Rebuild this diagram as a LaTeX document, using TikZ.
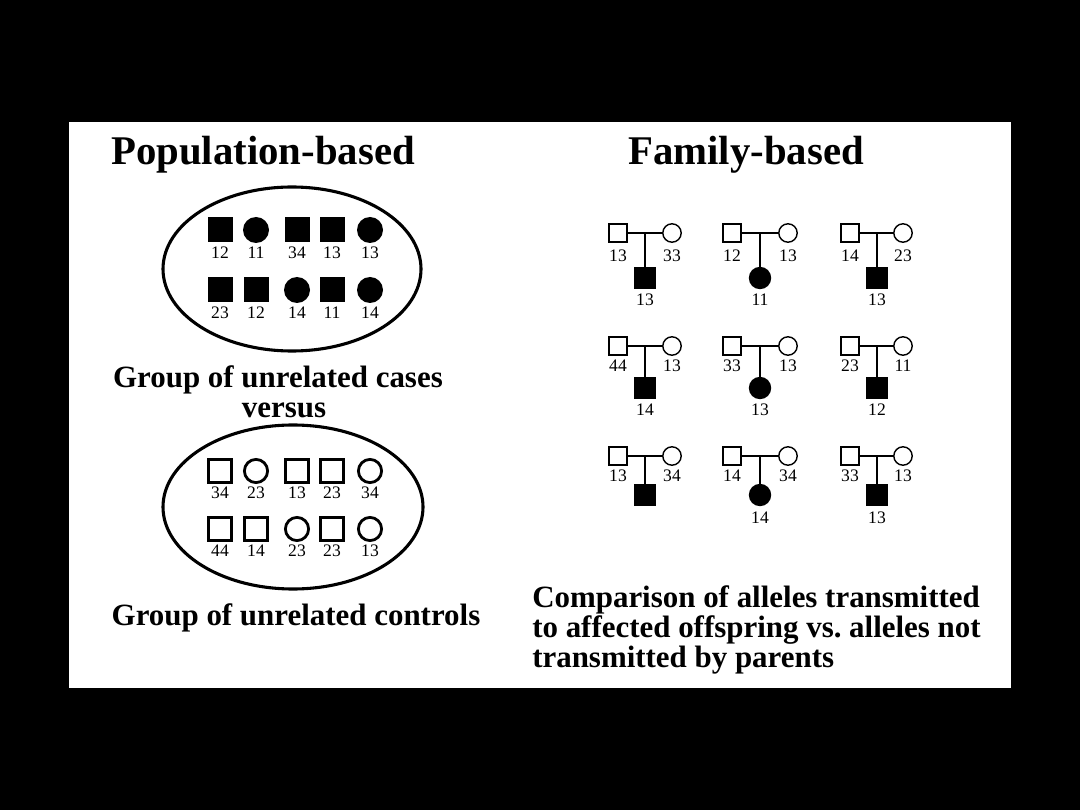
\documentclass[tikz,border=0pt]{standalone}
\usepackage{fontspec}
\setmainfont{Liberation Serif}
\usetikzlibrary{shapes.geometric}
\tikzset{
  fsq/.style={rectangle, fill=black, minimum size=6.25mm, inner sep=0pt},
  fci/.style={circle, fill=black, minimum size=6.5mm, inner sep=0pt},
  osq/.style={rectangle, draw, line width=2pt, minimum size=5.6mm, inner sep=0pt},
  oci/.style={circle, draw, line width=2pt, minimum size=5.8mm, inner sep=0pt},
  psq/.style={rectangle, draw, line width=1pt, minimum size=4.5mm, inner sep=0pt},
  pci/.style={circle, draw, line width=1pt, minimum size=4.6mm, inner sep=0pt},
  csq/.style={rectangle, fill=black, minimum size=5.4mm, inner sep=0pt},
  cci/.style={circle, fill=black, minimum size=5.6mm, inner sep=0pt},
  lbl/.style={font=\fontsize{12.5}{12.5}\selectfont, inner sep=0pt},
  head/.style={font=\fontsize{29}{32}\selectfont\bfseries, inner sep=0pt},
  body/.style={font=\fontsize{22}{21.3}\selectfont\bfseries, inner sep=0pt},
  oval/.style={ellipse, draw, line width=2.2pt, inner sep=0pt},
  link/.style={line width=1pt}
}
\begin{document}
\begin{tikzpicture}[x=0.25mm, y=-0.25mm]
\fill[black] (0,0) rectangle (1080,810);
\fill[white] (69,122) rectangle (1011,688);
\useasboundingbox (0,0) rectangle (1080,810);

% headings
\node[head] (h1) at (263,155) {Population-based};
\node[head] (h2) at (746,155) {Family-based};

% ellipses
\node[oval, minimum width=64.5mm, minimum height=41mm] (e1) at (292,269) {};
\node[oval, minimum width=65mm, minimum height=41mm] (e2) at (293,507) {};

% cases
\foreach \x/\t/\l [count=\i] in {220/fsq/12, 256/fci/11, 297/fsq/34, 332/fsq/13, 370/fci/13}{
  \node[\t] (ca\i) at (\x,230) {};
  \node[lbl] (lca\i) at (\x,253) {\l};
}
\foreach \x/\t/\l [count=\i] in {220/fsq/23, 256/fsq/12, 297/fci/14, 332/fsq/11, 370/fci/14}{
  \node[\t] (cb\i) at (\x,290) {};
  \node[lbl] (lcb\i) at (\x,313) {\l};
}
% controls
\foreach \x/\t/\l [count=\i] in {220/osq/34, 256/oci/23, 297/osq/13, 332/osq/23, 370/oci/34}{
  \node[\t] (ka\i) at (\x,471) {};
  \node[lbl] (lka\i) at (\x,493) {\l};
}
\foreach \x/\t/\l [count=\i] in {220/osq/44, 256/osq/14, 297/oci/23, 332/osq/23, 370/oci/13}{
  \node[\t] (kb\i) at (\x,529) {};
  \node[lbl] (lkb\i) at (\x,551) {\l};
}

\node[body] (t1) at (278,380) {Group of unrelated cases};
\node[body] (t2) at (284,410) {versus};
\node[body] (t3) at (296,618) {Group of unrelated controls};

% pedigrees
\foreach \fx/\mx/\jx/\py/\ly/\cy/\cly/\ct/\fl/\ml/\cl [count=\i] in {
  618/672/645/233/256/278/300/csq/13/33/13,
  732/788/760/233/256/278/300/cci/12/13/11,
  850/903/877/233/256/278/300/csq/14/23/13,
  618/672/645/346/366/388/410/csq/44/13/14,
  732/788/760/346/366/388/410/cci/33/13/13,
  850/903/877/346/366/388/410/csq/23/11/12,
  732/788/760/456/476/495/518/cci/14/34/14,
  850/903/877/456/476/495/518/csq/33/13/13}{
  \node[psq] (f\i) at (\fx,\py) {};
  \node[pci] (m\i) at (\mx,\py) {};
  \coordinate (j\i) at (\jx,\py);
  \node[\ct] (c\i) at (\jx,\cy) {};
  \draw[link] (f\i) -- (m\i);
  \draw[link] (j\i) -- (c\i);
  \node[lbl] (lf\i) at (\fx,\ly) {\fl};
  \node[lbl] (lm\i) at (\mx,\ly) {\ml};
  \node[lbl] (lc\i) at (\jx,\cly) {\cl};
}
% family without child label
\node[psq] (f9) at (618,456) {};
\node[pci] (m9) at (672,456) {};
\coordinate (j9) at (645,456);
\node[csq] (c9) at (645,495) {};
\draw[link] (f9) -- (m9);
\draw[link] (j9) -- (c9);
\node[lbl] (lf9) at (618,476) {13};
\node[lbl] (lm9) at (672,476) {34};

\node[body, align=left, anchor=west] (t4) at (532,630)
  {Comparison of alleles transmitted\\to affected offspring vs.\ alleles not\\transmitted by parents};
\end{tikzpicture}
\end{document}
